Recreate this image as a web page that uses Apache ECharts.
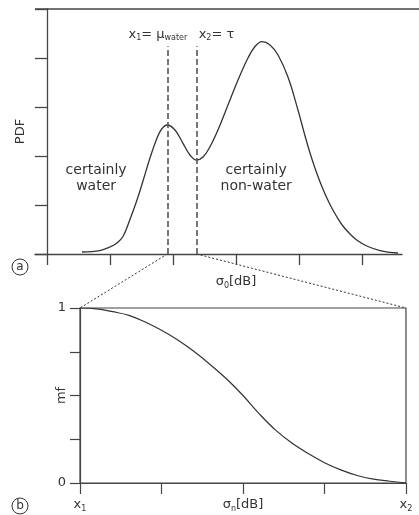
<!DOCTYPE html>
<html>
<head>
<meta charset="utf-8">
<script src="https://cdn.jsdelivr.net/npm/echarts@6/dist/echarts.min.js"></script>
<style>
  html, body { margin: 0; padding: 0; background: #fff; }
  #c { width: 419px; height: 515px; }
</style>
</head>
<body>
<div id="c"></div>
<script>
// (a) bimodal backscatter distribution
const pdfX = [0.556, 0.841, 1.000, 1.111, 1.206, 1.317, 1.429, 1.524, 1.635, 1.741, 1.821,
              1.910, 2.032, 2.159, 2.270, 2.376, 2.481, 2.587, 2.714, 2.873, 3.032, 3.190,
              3.302, 3.413, 3.540, 3.667, 3.825, 3.984, 4.079, 4.175, 4.281, 4.386, 4.492,
              4.598, 4.703, 4.810, 4.916, 5.075, 5.286, 5.571];
const pdfY = [0.041, 0.071, 0.143, 0.224, 0.357, 0.704, 1.102, 1.490, 1.959, 2.347, 2.551,
              2.633, 2.531, 2.259, 2.020, 1.918, 1.986, 2.190, 2.531, 3.041, 3.551, 4.000,
              4.235, 4.333, 4.265, 4.061, 3.612, 2.939, 2.490, 2.061, 1.653, 1.306, 1.010,
              0.765, 0.561, 0.408, 0.286, 0.163, 0.071, 0.020];
const x1Value = 1.910;   // mu_water
const tauValue = 2.376;  // threshold tau
const pdfTicksX = [0, 1, 2, 3, 4, 5];

// (b) membership function between x1 and x2
const mfX = [0, 0.05, 0.10, 0.15, 0.20, 0.25, 0.30, 0.35, 0.40, 0.45, 0.50,
             0.55, 0.60, 0.65, 0.70, 0.75, 0.80, 0.85, 0.90, 0.95, 1.00];
const mfY = [1.000, 0.995, 0.979, 0.958, 0.920, 0.873, 0.817, 0.751, 0.676, 0.594, 0.500,
             0.395, 0.302, 0.228, 0.168, 0.116, 0.075, 0.043, 0.022, 0.010, 0.000];

const FONT = 'DejaVu Sans';
const INK = '#333';
const AX = '#454545';

const rich = {
  m: { fontFamily: FONT, fontSize: 13, color: INK, lineHeight: 16 },
  s: { fontFamily: FONT, fontSize: 8, color: INK, lineHeight: 8, verticalAlign: 'bottom' }
};
const sub = (base, s, tail) => `{m|${base}}{s|${s}}` + (tail ? `{m|${tail}}` : '');

const chart = echarts.init(document.getElementById('c'));

chart.setOption({
  animation: false,
  grid: [
    { left: 35, right: 17, top: 9, bottom: 261, outerBoundsMode: 'none' },
    { left: 80, right: 13, top: 308, bottom: 32, outerBoundsMode: 'none',
      show: true, borderColor: AX, borderWidth: 1.2 }
  ],
  xAxis: [
    {
      gridIndex: 0, type: 'value', min: -0.19, max: 5.635,
      axisLine: { lineStyle: { color: AX, width: 1.3 } },
      axisTick: { customValues: pdfTicksX, length: 11, lineStyle: { color: AX, width: 1.3 } },
      axisLabel: { customValues: [3], margin: 20, rich, formatter: () => sub('σ', '0', '[dB]') },
      splitLine: { show: false }
    },
    {
      gridIndex: 1, type: 'value', min: 0, max: 1, interval: 0.25,
      axisLine: { lineStyle: { color: AX, width: 1.2 } },
      axisTick: { length: 11, lineStyle: { color: AX, width: 1.2 } },
      axisLabel: {
        margin: 14, rich, showMinLabel: true, showMaxLabel: true,
        formatter: v => v === 0 ? sub('x', '1') : v === 0.5 ? sub('σ', 'n', '[dB]') : v === 1 ? sub('x', '2') : ''
      },
      splitLine: { show: false }
    }
  ],
  yAxis: [
    {
      gridIndex: 0, type: 'value', min: 0, max: 5, interval: 1,
      axisLine: { show: true, lineStyle: { color: AX, width: 1.3 } },
      axisTick: { show: true, length: 12, lineStyle: { color: AX, width: 1.3 } },
      axisLabel: { show: false },
      splitLine: { show: false },
      name: 'PDF', nameLocation: 'middle', nameRotate: 90, nameGap: 8, nameMoveOverlap: false,
      nameTextStyle: { fontFamily: FONT, fontSize: 13, color: INK }
    },
    {
      gridIndex: 1, type: 'value', min: 0, max: 1, interval: 0.25,
      axisLine: { show: true, lineStyle: { color: AX, width: 1.2 } },
      axisTick: { show: true, length: 10, lineStyle: { color: AX, width: 1.2 } },
      axisLabel: {
        margin: 14, fontFamily: FONT, fontSize: 13, color: INK,
        formatter: v => v === 1 ? '1' : v === 0 ? '0' : ''
      },
      splitLine: { show: false },
      name: 'mf', nameLocation: 'middle', nameRotate: 90, nameGap: 12, nameMoveOverlap: false,
      nameTextStyle: { fontFamily: FONT, fontSize: 13, color: INK }
    }
  ],
  series: [
    {
      type: 'line', xAxisIndex: 0, yAxisIndex: 0,
      data: pdfX.map((x, i) => [x, pdfY[i]]),
      smooth: 0.4, showSymbol: false,
      lineStyle: { color: INK, width: 1.3 },
      markLine: {
        silent: true, symbol: 'none', label: { show: false },
        lineStyle: { color: '#555', width: 1.6, type: [6, 3] },
        data: [
          [{ coord: [x1Value, 0] }, { coord: [x1Value, 4.24] }],
          [{ coord: [tauValue, 0] }, { coord: [tauValue, 4.24] }]
        ]
      }
    },
    {
      type: 'line', xAxisIndex: 1, yAxisIndex: 1,
      data: mfX.map((x, i) => [x, mfY[i]]),
      smooth: 0.4, showSymbol: false,
      lineStyle: { color: INK, width: 1.2 }
    }
  ]
});

// Frame, zoom connectors and annotations placed from the axes' own scales
const p0 = v => chart.convertToPixel({ gridIndex: 0 }, v);
const p1 = v => chart.convertToPixel({ gridIndex: 1 }, v);

const topLeft = p0([-0.19, 5]);
const x1Base = p0([x1Value, 0]);
const tauBase = p0([tauValue, 0]);
const bTopLeft = p1([0, 1]);
const bTopRight = p1([1, 1]);
const x1Top = p0([x1Value, 4.24]);
const tauTop = p0([tauValue, 4.24]);
const waterPos = p0([0.78, 1.55]);
const nonWaterPos = p0([3.32, 1.55]);

const txt = (x, y, text, align, extra) => ({
  type: 'text', x, y, silent: true,
  style: Object.assign({
    text, rich, align: align || 'center', verticalAlign: 'middle',
    fontFamily: FONT, fontSize: 13, fill: INK
  }, extra || {})
});

const circled = (x, y, letter) => ({
  type: 'group', silent: true,
  children: [
    { type: 'circle', shape: { cx: x, cy: y, r: 8 }, style: { fill: 'none', stroke: INK, lineWidth: 1 } },
    { type: 'text', x, y, style: { text: letter, align: 'center', verticalAlign: 'middle',
      fontFamily: FONT, fontSize: 12, fill: INK } }
  ]
});

chart.setOption({
  graphic: [
    { type: 'line', silent: true,
      shape: { x1: topLeft[0], y1: topLeft[1], x2: chart.getWidth(), y2: topLeft[1] },
      style: { stroke: AX, lineWidth: 1.3 } },
    { type: 'line', silent: true,
      shape: { x1: x1Base[0], y1: x1Base[1], x2: bTopLeft[0], y2: bTopLeft[1] },
      style: { stroke: INK, lineWidth: 1, lineDash: [2, 2] } },
    { type: 'line', silent: true,
      shape: { x1: tauBase[0], y1: tauBase[1], x2: bTopRight[0], y2: bTopRight[1] },
      style: { stroke: INK, lineWidth: 1, lineDash: [2, 2] } },
    txt(x1Top[0] + 20, x1Top[1] - 12, sub('x', '1', '= μ') + '{s|water}', 'right'),
    txt(tauTop[0] + 2, tauTop[1] - 12, sub('x', '2', '= τ'), 'left'),
    txt(waterPos[0], waterPos[1], 'certainly\nwater', 'center', { rich: null, lineHeight: 16, fontSize: 14 }),
    txt(nonWaterPos[0], nonWaterPos[1], 'certainly\nnon-water', 'center', { rich: null, lineHeight: 16, fontSize: 14 }),
    circled(20, 267, 'a'),
    circled(20, 506, 'b')
  ]
});
</script>
</body>
</html>
